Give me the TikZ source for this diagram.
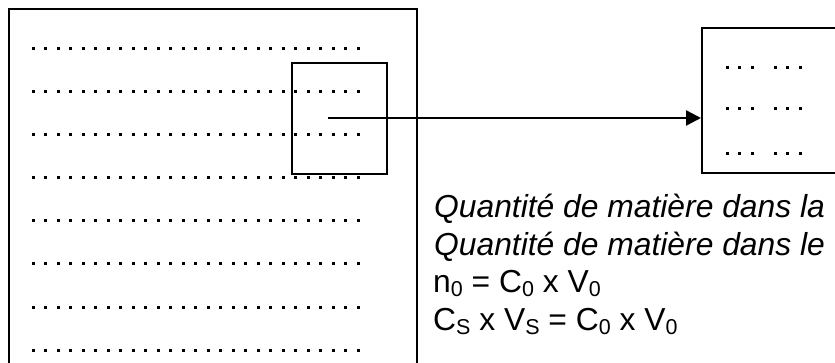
\documentclass[tikz,border=0pt]{standalone}
\usepackage{fontspec}
\setmainfont{Liberation Sans}
\usepackage{tikz}
\usetikzlibrary{positioning, arrows.meta}

\newcommand{\lowsub}[1]{\raisebox{-4pt}{\fontsize{21.5}{21.5}\selectfont #1}}

\begin{document}
\begin{tikzpicture}[
        x=1pt, y=-1pt,
        box/.style={rectangle, draw, line width=2.2pt, anchor=north west, inner sep=0pt},
        smallbox/.style={rectangle, draw, line width=1.7pt, anchor=north west, inner sep=0pt},
        arrow/.style={-{Triangle[length=15pt, width=15pt]}, line width=2.4pt},
        txt/.style={anchor=base west, inner sep=0pt, font=\fontsize{31.8}{37}\selectfont}
    ]
        \clip (0,0) rectangle (835,363);

        % Define nodes
        \node (fiole) [box, minimum width=408pt, minimum height=400pt] at (8,8) {};
        \node (prelev) [smallbox, minimum width=95pt, minimum height=111pt] at (291,62) {};
        \node (becher) [box, minimum width=160pt, minimum height=145pt] at (701,27) {};
        \coordinate (start) at (328,118);

        % Dots in the flask
        \foreach \r in {0,...,7}
            \foreach \c in {0,...,26}
                \fill (33+\c*12.5-1.5, 52+\r*43-1.5) rectangle +(3,-3);

        % Dots in the beaker
        \foreach \r in {71,112,157}
            \foreach \c in {727,739.5,752,775,787.5,800}
                \fill (\c-1.5, \r-1.5) rectangle +(3,-3);

        % Text
        \node (qsol) [txt] at (434,218) {\itshape Quantité de matière dans la};
        \node (qmere) [txt] at (434,255.5) {\itshape Quantité de matière dans le};
        \node (nzero) [txt] at (433,293) {n\lowsub{0} = C\lowsub{0} x V\lowsub{0}};
        \node (dilu) [txt] at (433,330.5) {C\lowsub{S} x V\lowsub{S} = C\lowsub{0} x V\lowsub{0}};

        % Draw arrow
        \draw [arrow] (start) -- (start -| becher.west);
    \end{tikzpicture}
\end{document}
